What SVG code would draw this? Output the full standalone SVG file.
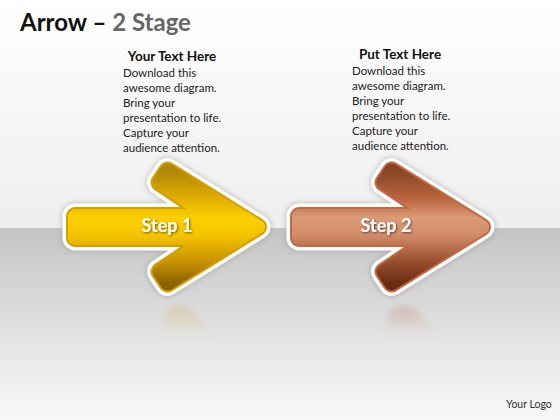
<svg xmlns="http://www.w3.org/2000/svg" xmlns:xlink="http://www.w3.org/1999/xlink" width="560" height="420" viewBox="0 0 560 420">
<defs>
<style>
.title{font-family:Lato,"Liberation Sans",sans-serif;font-weight:bold;font-size:24px}
.head{font-family:Lato,"Liberation Sans",sans-serif;font-weight:bold;font-size:13.5px;fill:#111;text-anchor:middle}
.body{font-family:Lato,"Liberation Sans",sans-serif;font-size:11.5px;fill:#222}
.step{font-family:Lato,"Liberation Sans",sans-serif;font-weight:bold;font-size:18px;fill:#fff;text-anchor:middle}
.logo{font-family:Lato,"Liberation Sans",sans-serif;font-size:10.5px;fill:#333}
.shadow{fill:#888;stroke:#888;stroke-width:28;stroke-linejoin:round;opacity:0.35}
.white{fill:#fff;stroke:#fff;stroke-width:25;stroke-linejoin:round}
.rimG{fill:#d4a000;stroke:#d4a000;stroke-width:18;stroke-linejoin:round}
.fillG{fill:url(#gold);stroke:url(#gold);stroke-width:14;stroke-linejoin:round}
.rimC{fill:#c06a42;stroke:#c06a42;stroke-width:18;stroke-linejoin:round}
.fillC{fill:url(#copper);stroke:url(#copper);stroke-width:14;stroke-linejoin:round}
</style>
<linearGradient id="bgTop" x1="0" y1="0" x2="0" y2="1">
<stop offset="0" stop-color="#ffffff"/><stop offset="1" stop-color="#eeeeee"/>
</linearGradient>
<linearGradient id="bgBot" x1="0" y1="0" x2="0" y2="1">
<stop offset="0" stop-color="#c4c4c4"/><stop offset="0.85" stop-color="#f2f2f2"/><stop offset="1" stop-color="#f8f8f8"/>
</linearGradient>
<linearGradient id="gold" x1="0" y1="0" x2="0" y2="1">
<stop offset="0" stop-color="#b08608"/><stop offset="0.25" stop-color="#e2ae00"/><stop offset="0.42" stop-color="#fbd000"/><stop offset="0.58" stop-color="#f4c200"/><stop offset="0.8" stop-color="#c99400"/><stop offset="1" stop-color="#8a6200"/>
</linearGradient>
<linearGradient id="copper" x1="0" y1="0" x2="0" y2="1">
<stop offset="0" stop-color="#8a4424"/><stop offset="0.25" stop-color="#b8663e"/><stop offset="0.42" stop-color="#dc9a78"/><stop offset="0.58" stop-color="#d08a66"/><stop offset="0.8" stop-color="#9a5030"/><stop offset="1" stop-color="#6a2c14"/>
</linearGradient>
<linearGradient id="reflG" x1="0" y1="0" x2="0" y2="1">
<stop offset="0" stop-color="#d8c070" stop-opacity="0.45"/><stop offset="1" stop-color="#d8c070" stop-opacity="0"/>
</linearGradient>
<linearGradient id="reflC" x1="0" y1="0" x2="0" y2="1">
<stop offset="0" stop-color="#c89080" stop-opacity="0.45"/><stop offset="1" stop-color="#c89080" stop-opacity="0"/>
</linearGradient>
<filter id="blur" x="-20%" y="-20%" width="140%" height="140%"><feGaussianBlur stdDeviation="2"/></filter>
<filter id="blur2" x="-30%" y="-30%" width="160%" height="160%"><feGaussianBlur stdDeviation="3"/></filter>
<filter id="ts" x="-20%" y="-30%" width="140%" height="160%"><feDropShadow dx="1" dy="1" stdDeviation="0.8" flood-color="#000" flood-opacity="0.55"/></filter>
<polygon id="arrowShape" points="75,216 209.7,216 159.5,182.5 167.5,170.5 258,227 167.5,283.5 159.5,271.5 209.7,238 75,238"/>
<path id="reflShape" d="M178,306 Q184,304 190,309 L216,333 L160,333 L164,314 Q168,307 178,306 Z"/>
</defs>

<rect x="0" y="0" width="560" height="228" fill="url(#bgTop)"/>
<rect x="0" y="228" width="560" height="192" fill="url(#bgBot)"/>

<g id="title">
<text class="title" x="20" y="31"><tspan fill="#111">Arrow – </tspan><tspan fill="#666">2 Stage</tspan></text>
</g>

<g id="text1">
<text class="head" x="172" y="61">Your Text Here</text>
<text class="body" x="123" y="77">Download this</text>
<text class="body" x="123" y="92">awesome diagram.</text>
<text class="body" x="123" y="107">Bring your</text>
<text class="body" x="123" y="122">presentation to life.</text>
<text class="body" x="123" y="137">Capture your</text>
<text class="body" x="123" y="152">audience attention.</text>
</g>

<g id="text2">
<text class="head" x="400" y="59">Put Text Here</text>
<text class="body" x="352" y="75">Download this</text>
<text class="body" x="352" y="90">awesome diagram.</text>
<text class="body" x="352" y="105">Bring your</text>
<text class="body" x="352" y="120">presentation to life.</text>
<text class="body" x="352" y="135">Capture your</text>
<text class="body" x="352" y="150">audience attention.</text>
</g>

<g id="connectors"></g>

<g id="step1">
<use xlink:href="#reflShape" href="#reflShape" fill="url(#reflG)" filter="url(#blur2)"/>
<use xlink:href="#arrowShape" href="#arrowShape" class="shadow" filter="url(#blur)"/>
<use xlink:href="#arrowShape" href="#arrowShape" class="white"/>
<use xlink:href="#arrowShape" href="#arrowShape" class="rimG"/>
<use xlink:href="#arrowShape" href="#arrowShape" class="fillG"/>
<text class="step" x="167" y="232" filter="url(#ts)">Step 1</text>
</g>

<g id="step2" transform="translate(224,0)">
<use xlink:href="#reflShape" href="#reflShape" fill="url(#reflC)" filter="url(#blur2)"/>
<use xlink:href="#arrowShape" href="#arrowShape" class="shadow" filter="url(#blur)"/>
<use xlink:href="#arrowShape" href="#arrowShape" class="white"/>
<use xlink:href="#arrowShape" href="#arrowShape" class="rimC"/>
<use xlink:href="#arrowShape" href="#arrowShape" class="fillC"/>
<text class="step" x="162" y="232" filter="url(#ts)">Step 2</text>
</g>

<g id="logo">
<text class="logo" x="506" y="408">Your Logo</text>
</g>
</svg>
